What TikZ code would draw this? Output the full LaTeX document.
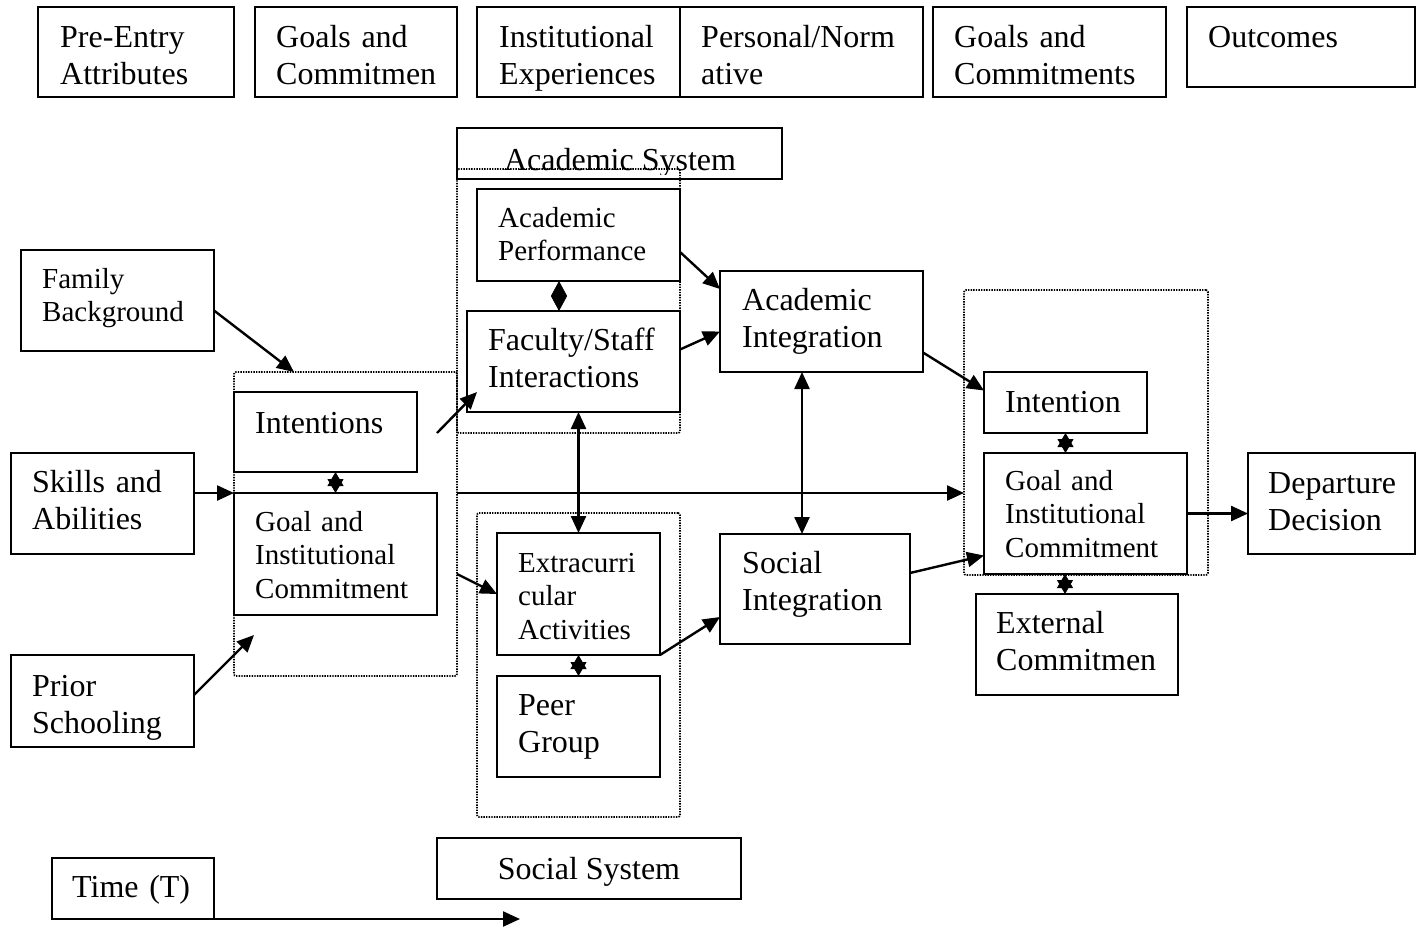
\documentclass[tikz,border=0pt]{standalone}
\usepackage{fontspec}
\setmainfont{Liberation Serif}
\usetikzlibrary{arrows.meta,calc}
\tikzset{
  box/.style={draw, line width=2pt, inner sep=0pt, outer sep=0pt, anchor=north west},
  frame/.style={draw, line width=1.7pt, dash pattern=on 1.4pt off 1.2pt, rounded corners=2pt, inner sep=0pt, outer sep=0pt, anchor=north west},
  big/.style={font=\fontsize{32}{37}\selectfont, anchor=base west, text width=400pt, align=left, inner sep=0pt},
  small/.style={font=\fontsize{29}{33.5}\selectfont, anchor=base west, text width=400pt, align=left, inner sep=0pt},
  lbl/.style={font=\fontsize{32}{37}\selectfont, anchor=base, inner sep=0pt},
  arr/.style={line width=2.4pt, -{Triangle[length=17pt,width=15pt]}},
  darr/.style={line width=2.4pt, {Triangle[length=17pt,width=15pt]}-{Triangle[length=17pt,width=15pt]}},
  star/.style={line width=0.8pt, {Triangle[length=14pt,width=16pt]}-{Triangle[length=14pt,width=16pt]}},
  dmd/.style={line width=0.8pt, {Triangle[length=15pt,width=16pt]}-{Triangle[length=15pt,width=16pt]}},
}
\newcommand\bx[5]{\node[box, minimum width={(#4-#2)*1pt}, minimum height={(#5-#3)*1pt}] (#1) at (#2,#3) {};}
\newcommand\fr[5]{\node[frame, minimum width={(#4-#2)*1pt}, minimum height={(#5-#3)*1pt}] (#1) at (#2,#3) {};}
\newcommand\tx[5]{\node[#1] (#2) at (#3,#4) {#5};}
\begin{document}
\begin{tikzpicture}[x=1pt,y=-1pt]
\useasboundingbox[fill=white] (0,0) rectangle (1416,930);
% top row
\bx{pre}{38}{7}{234}{97} \tx{big}{pre-t}{60}{47}{Pre-Entry\\Attributes}
\bx{gc1}{255}{7}{457}{97} \tx{big}{gc1-t}{276}{47}{Goals and\\Commitmen}
\bx{ie}{477}{7}{680}{97} \tx{big}{ie-t}{499}{47}{Institutional\\Experiences}
\bx{pn}{680}{7}{923}{97} \tx{big}{pn-t}{701}{47}{Personal/Norm\\ative}
\bx{gc2}{933}{7}{1166}{97} \tx{big}{gc2-t}{954}{47}{Goals and\\Commitments}
\bx{out}{1187}{7}{1415}{87} \tx{big}{out-t}{1208}{47}{Outcomes}
% academic system label
\bx{acs}{457}{128}{782}{179}
\begin{scope}
\clip (457,128) rectangle (782,174);
\node[lbl] (acs-t) at (620,170) {Academic System};
\end{scope}
% frames
\fr{lf}{234}{372}{457}{676}
\fr{af}{457}{169}{680}{433}
\fr{sf}{477}{513}{680}{817}
\fr{rf}{964}{290}{1208}{575}
% left column
\bx{fb}{21}{250}{214}{351} \tx{small}{fb-t}{42}{288}{Family\\Background}
\bx{sa}{11}{453}{194}{554} \tx{big}{sa-t}{32}{492}{Skills and\\Abilities}
\bx{ps}{11}{655}{194}{747} \tx{big}{ps-t}{32}{696}{Prior\\Schooling}
\bx{int}{234}{392}{417}{472} \tx{big}{int-t}{255}{433}{Intentions}
\bx{gic}{234}{493}{437}{615} \tx{small}{gic-t}{255}{531}{Goal and\\Institutional\\Commitment}
% academic / social system
\bx{ap}{477}{189}{680}{281} \tx{small}{ap-t}{498}{227}{Academic\\Performance}
\bx{fs}{467}{311}{680}{412} \tx{big}{fs-t}{488}{350}{Faculty/Staff\\Interactions}
\bx{ex}{497}{533}{660}{655} \tx{small}{ex-t}{518}{572}{Extracurri\\cular\\Activities}
\bx{pg}{497}{676}{660}{777} \tx{big}{pg-t}{518}{715}{Peer\\Group}
\bx{ss}{437}{838}{741}{899} \node[lbl] (ss-t) at (589,879) {Social System};
% integration
\bx{ai}{720}{271}{923}{372} \tx{big}{ai-t}{742}{310}{Academic\\Integration}
\bx{si}{720}{534}{910}{644} \tx{big}{si-t}{742}{573}{Social\\Integration}
% right
\bx{int2}{984}{372}{1147}{433} \tx{big}{int2-t}{1005}{412}{Intention}
\bx{gic2}{984}{453}{1187}{574} \tx{small}{gic2-t}{1005}{490}{Goal and\\Institutional\\Commitment}
\bx{ec}{976}{594}{1178}{695} \tx{big}{ec-t}{996}{633}{External\\Commitmen}
\bx{dd}{1248}{453}{1415}{554} \tx{big}{dd-t}{1268}{493}{Departure\\Decision}
% time
\bx{time}{52}{858}{214}{919} \tx{big}{time-t}{72}{897}{Time (T)}
% connectors
\draw[arr] ($(fb.east)+(0,10)$) -- ($(lf.north west)+(60,0)$);
\draw[arr] (sa.east |- gic.north) -- (gic.north west);
\draw[arr] ($(ps.east)+(0,-6)$) -- ($(lf.south west)+(20,-41)$);
\draw[arr] ($(lf.north east)+(-20,61)$) -- ($(fs.south west)+(10,-20)$);
\draw[arr] ($(lf.north east)+(0,202)$) -- (ex.west);
\draw[arr] (lf.east |- gic.north) -- (rf.west |- gic.north);
\draw[darr] (ex.north |- fs.south) -- (ex.north);
\draw[arr] ($(ap.east)+(0,17)$) -- ($(ai.north west)+(0,18)$);
\draw[arr] ($(fs.east)+(0,-12)$) -- ($(ai.west)+(0,10)$);
\coordinate (c1) at ($(ai.south west)+(82,0)$);
\draw[darr] (c1) -- (c1 |- si.north);
\draw[arr] (ex.south east) -- ($(si.west)+(0,28)$);
\draw[arr] ($(ai.east)+(0,31)$) -- ($(int2.west)+(0,-12)$);
\draw[arr] ($(si.east)+(0,-16)$) -- ($(gic2.west)+(0,42)$);
\draw[arr] (gic2.east) -- (dd.west |- gic2.east);
\draw[star] (gic.north |- int.south) -- (gic.north);
\draw[star] (ex.south) -- (pg.north);
\draw[star] (int2.south) -- (int2.south |- gic2.north);
\coordinate (c2) at ($(gic2.south west)+(81,0)$);
\draw[star] (c2) -- (c2 |- ec.north);
\coordinate (c3) at ($(ap.south west)+(82,0)$);
\draw[dmd] (c3) -- (c3 |- fs.north);
\coordinate (tend) at ($(time.south east)+(306,0)$);
\draw[arr] (time.south east) -- (tend);
\end{tikzpicture}
\end{document}
